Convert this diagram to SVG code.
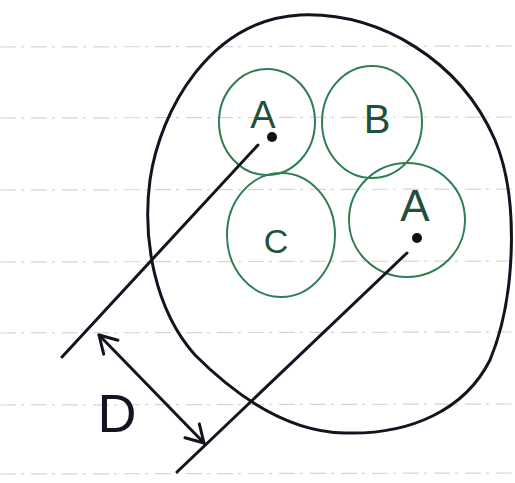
<svg xmlns="http://www.w3.org/2000/svg" width="515" height="483" viewBox="0 0 515 483">
<style>
.paper{stroke:#d9d4d4;stroke-width:1.2;stroke-dasharray:16 5 3 7;fill:none}
.ink{stroke:#141420;stroke-width:3;fill:none;stroke-linecap:round;stroke-linejoin:round}
.cell{stroke:#2f7d52;stroke-width:2;fill:none}
.lbl{font-family:"Liberation Sans",Arial,sans-serif;fill:#24503a;text-anchor:middle}
.dot{fill:#111}
</style>
<defs>
<marker id="v" viewBox="-25 -15 30 30" refX="0" refY="0" markerWidth="30" markerHeight="30" markerUnits="userSpaceOnUse" orient="auto-start-reverse" overflow="visible">
<path d="M -17 -10 L 0 0 L -17 10" fill="none" stroke="#141420" stroke-width="3" stroke-linecap="round" stroke-linejoin="round"/>
</marker>
</defs>
<rect width="515" height="483" fill="#ffffff"/>
<g id="paper-lines">
<line class="paper" x1="0" y1="47" x2="515" y2="46"/>
<line class="paper" x1="0" y1="118" x2="515" y2="117"/>
<line class="paper" x1="0" y1="190" x2="515" y2="189"/>
<line class="paper" x1="0" y1="262" x2="515" y2="261"/>
<line class="paper" x1="0" y1="333" x2="515" y2="332"/>
<line class="paper" x1="0" y1="405" x2="515" y2="404"/>
<line class="paper" x1="0" y1="474" x2="515" y2="473"/>
</g>
<g id="outer">
<path class="ink" d="M 300 15 C 380 12, 460 60, 495 140 C 520 200, 515 300, 490 360 C 465 410, 410 435, 345 433 C 290 432, 240 400, 195 355 C 155 310, 142 240, 150 180 C 160 110, 210 20, 300 15 Z"/>
</g>
<g id="cell-A1">
<ellipse class="cell" cx="267" cy="122" rx="48" ry="53"/>
<text class="lbl" x="263" y="128" font-size="38">A</text>
<circle class="dot" cx="272" cy="137" r="5"/>
</g>
<g id="cell-B">
<ellipse class="cell" cx="372" cy="122" rx="50" ry="56"/>
<text class="lbl" x="377" y="133" font-size="40">B</text>
</g>
<g id="cell-C">
<ellipse class="cell" cx="281" cy="235" rx="54" ry="62"/>
<text class="lbl" x="276" y="253" font-size="34">C</text>
</g>
<g id="cell-A2">
<ellipse class="cell" cx="407" cy="220" rx="58" ry="57"/>
<text class="lbl" x="415" y="221" font-size="44">A</text>
<circle class="dot" cx="417" cy="238" r="5"/>
</g>
<g id="connectors">
<line class="ink" x1="258" y1="145" x2="62" y2="357"/>
<line class="ink" x1="407" y1="253" x2="177" y2="472"/>
<line class="ink" x1="99" y1="335" x2="204" y2="443" marker-start="url(#v)" marker-end="url(#v)"/>
</g>
<g id="label-D">
<text x="117" y="432" font-family="Liberation Sans,Arial,sans-serif" font-size="54" fill="#141420" text-anchor="middle">D</text>
</g>
</svg>
